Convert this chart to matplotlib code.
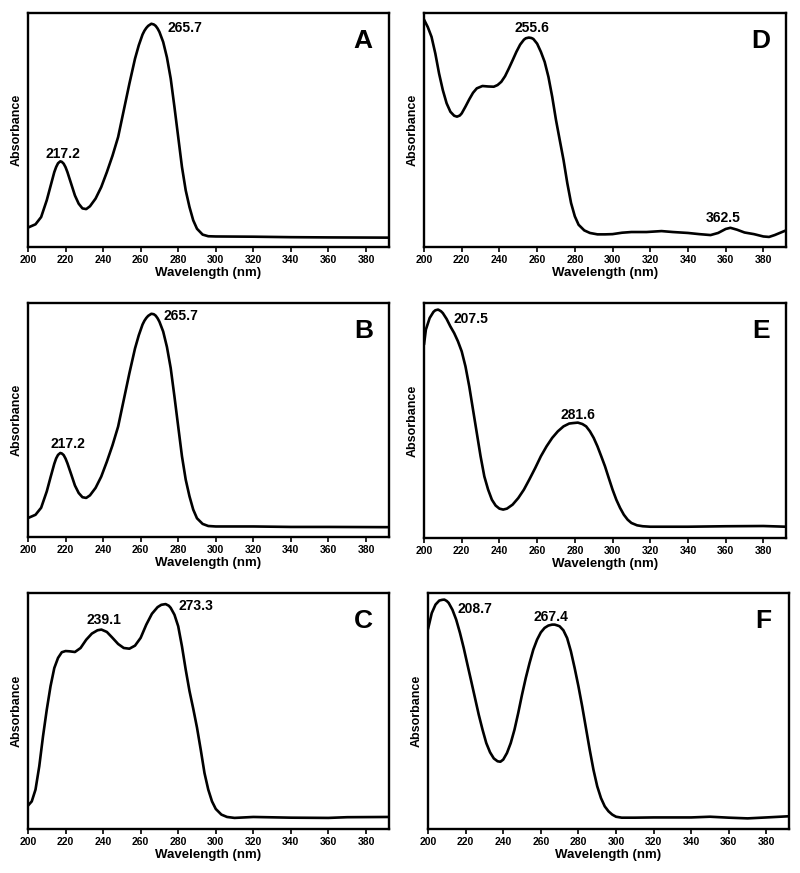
#!/usr/bin/env python3
"""
UV-Vis absorption spectra, six panels (A-F), normalised absorbance vs wavelength.
"""

import matplotlib
matplotlib.use("Agg")
import matplotlib.pyplot as plt

plt.rcParams['font.family'] = ['Liberation Sans', 'DejaVu Sans']
plt.rcParams['font.weight'] = 'bold'

# ---- spectra (absorbance in arbitrary units, 0-1 of the frame) ----
wl_a = [200, 204, 207, 210, 212, 214, 215, 216, 217.2, 218, 219, 220, 221, 223, 225, 227, 229,
        231, 233, 236, 239, 242, 245, 248, 251, 254, 257, 259, 261, 262, 263, 264, 265.7, 267,
        268, 269, 270, 272, 274, 276, 278, 280, 282, 284, 286, 288, 290, 293, 296, 300, 320,
        340, 360, 392]
abs_a = [0.083, 0.097, 0.128, 0.200, 0.260, 0.320, 0.342, 0.358, 0.366, 0.364, 0.356, 0.341,
         0.320, 0.270, 0.220, 0.185, 0.165, 0.162, 0.174, 0.207, 0.256, 0.320, 0.390, 0.470,
         0.584, 0.698, 0.805, 0.862, 0.908, 0.924, 0.936, 0.945, 0.954, 0.951, 0.945, 0.934,
         0.919, 0.876, 0.810, 0.720, 0.598, 0.470, 0.342, 0.242, 0.171, 0.114, 0.078, 0.053,
         0.046, 0.045, 0.044, 0.042, 0.041, 0.040]

wl_b = wl_a
abs_b = [0.081, 0.095, 0.125, 0.195, 0.255, 0.313, 0.336, 0.351, 0.359, 0.357, 0.350, 0.335,
         0.315, 0.268, 0.220, 0.188, 0.170, 0.167, 0.178, 0.210, 0.258, 0.322, 0.392, 0.472,
         0.586, 0.700, 0.806, 0.862, 0.908, 0.924, 0.936, 0.945, 0.954, 0.952, 0.946, 0.935,
         0.920, 0.878, 0.812, 0.722, 0.600, 0.472, 0.345, 0.245, 0.174, 0.117, 0.080, 0.056,
         0.047, 0.045, 0.045, 0.043, 0.043, 0.042]

wl_c = [200, 202, 204, 206, 208, 210, 212, 214, 216, 218, 220, 222, 225, 228, 231, 234, 237,
        239.1, 242, 245, 248, 251, 254, 257, 260, 263, 266, 269, 271, 273.3, 275, 276, 278, 280,
        282, 284, 286, 288, 290, 292, 294, 296, 298, 300, 303, 306, 310, 320, 340, 360, 370, 392]
abs_c = [0.099, 0.117, 0.167, 0.266, 0.393, 0.506, 0.605, 0.682, 0.725, 0.749, 0.754, 0.753,
         0.750, 0.767, 0.802, 0.828, 0.842, 0.845, 0.835, 0.810, 0.784, 0.767, 0.764, 0.777,
         0.810, 0.866, 0.912, 0.940, 0.950, 0.953, 0.946, 0.937, 0.908, 0.859, 0.774, 0.675,
         0.585, 0.510, 0.430, 0.336, 0.237, 0.167, 0.117, 0.085, 0.061, 0.051, 0.047, 0.051,
         0.048, 0.047, 0.050, 0.051]

wl_d = [200, 202, 204, 206, 208, 210, 212, 214, 216, 217.5, 219, 220, 222, 224, 226, 228, 231,
        234, 237, 239, 241, 243, 245, 247, 249, 251, 253, 254, 255.6, 257, 258, 260, 262, 264,
        266, 268, 270, 272, 274, 276, 278, 280, 282, 285, 288, 292, 296, 300, 305, 310, 318,
        326, 332, 340, 346, 352, 356, 360, 362.5, 366, 370, 375, 380, 383, 386, 392]
abs_d = [0.972, 0.940, 0.898, 0.827, 0.741, 0.670, 0.614, 0.578, 0.561, 0.557, 0.562, 0.571,
         0.600, 0.631, 0.659, 0.678, 0.688, 0.686, 0.685, 0.692, 0.706, 0.730, 0.763, 0.798,
         0.834, 0.865, 0.886, 0.892, 0.895, 0.893, 0.889, 0.869, 0.834, 0.791, 0.727, 0.642,
         0.543, 0.457, 0.372, 0.273, 0.188, 0.131, 0.095, 0.071, 0.060, 0.054, 0.054, 0.055,
         0.061, 0.064, 0.064, 0.068, 0.064, 0.060, 0.055, 0.051, 0.060, 0.077, 0.082, 0.074,
         0.062, 0.055, 0.045, 0.043, 0.051, 0.071]

wl_e = [200, 201, 203, 205, 206, 207.5, 209, 210, 212, 214, 216, 218, 220, 222, 224, 226, 228,
        230, 232, 234, 236, 238, 240, 242, 244, 247, 250, 253, 256, 259, 262, 265, 268, 271,
        274, 277, 279, 281.6, 284, 286, 288, 290, 292, 294, 296, 298, 300, 302, 304, 306, 308,
        310, 313, 316, 320, 340, 360, 380, 392]
abs_e = [0.823, 0.887, 0.936, 0.962, 0.969, 0.972, 0.965, 0.957, 0.932, 0.900, 0.872, 0.837,
         0.794, 0.730, 0.645, 0.546, 0.447, 0.348, 0.262, 0.206, 0.163, 0.138, 0.125, 0.121,
         0.125, 0.142, 0.170, 0.206, 0.251, 0.298, 0.348, 0.390, 0.426, 0.454, 0.475, 0.487,
         0.489, 0.491, 0.485, 0.475, 0.454, 0.426, 0.390, 0.348, 0.305, 0.255, 0.206, 0.163,
         0.128, 0.099, 0.078, 0.064, 0.054, 0.050, 0.048, 0.048, 0.050, 0.051, 0.048]

wl_f = [200, 202, 204, 206, 207.5, 208.7, 210, 211, 213, 215, 217, 219, 221, 223, 225, 227, 229,
        231, 233, 235, 237, 238.5, 240, 242, 244, 246, 248, 250, 252, 254, 256, 258, 260, 262,
        264, 266, 267.4, 269, 270, 272, 274, 276, 278, 280, 282, 284, 286, 288, 290, 292, 294,
        296, 298, 300, 303, 310, 320, 340, 350, 360, 370, 380, 392]
abs_f = [0.847, 0.915, 0.951, 0.968, 0.971, 0.972, 0.966, 0.958, 0.929, 0.887, 0.831, 0.767,
         0.696, 0.626, 0.555, 0.484, 0.421, 0.364, 0.325, 0.299, 0.287, 0.285, 0.294, 0.322,
         0.364, 0.421, 0.492, 0.569, 0.640, 0.703, 0.760, 0.802, 0.833, 0.852, 0.862, 0.866,
         0.866, 0.862, 0.859, 0.842, 0.809, 0.753, 0.682, 0.605, 0.520, 0.428, 0.336, 0.251,
         0.181, 0.131, 0.096, 0.075, 0.061, 0.052, 0.048, 0.048, 0.049, 0.049, 0.052, 0.048,
         0.045, 0.049, 0.054]

panel_letters = ['A', 'B', 'C', 'D', 'E', 'F']
spectra = [(wl_a, abs_a), (wl_b, abs_b), (wl_c, abs_c),
           (wl_d, abs_d), (wl_e, abs_e), (wl_f, abs_f)]

# peak labels: (text, x in nm, y in frame units)
peak_labels = [
    [('217.2', 218.8, 0.399), ('265.7', 283.4, 0.937)],
    [('217.2', 221.4, 0.399), ('265.7', 281.3, 0.943)],
    [('239.1', 240.5, 0.884), ('273.3', 289.6, 0.946)],
    [('255.6', 257.5, 0.937), ('362.5', 358.4, 0.124)],
    [('207.5', 225.1, 0.932), ('281.6', 281.8, 0.525)],
    [('208.7', 224.8, 0.932), ('267.4', 265.6, 0.898)],
]

xticks = list(range(200, 400, 20))

# axes rectangles in pixels (left, top, right, bottom)
W, H = 800, 873
boxes_px = [
    (28, 13, 388.5, 247),
    (28, 303, 388.5, 537),
    (28, 593, 388.5, 829),
    (424, 13, 786, 247),
    (424, 303, 786, 538),
    (428, 593, 789, 829),
]

fig = plt.figure(figsize=(W / 100, H / 100), dpi=100)

for i, (x0, y0, x1, y1) in enumerate(boxes_px):
    ax = fig.add_axes([x0 / W, 1 - y1 / H, (x1 - x0) / W, (y1 - y0) / H])
    wl, ab = spectra[i]
    ax.plot(wl, ab, color='black', lw=1.9, solid_joinstyle='round', solid_capstyle='round')
    ax.set_xlim(200, 392)
    ax.set_ylim(0, 1)
    ax.set_xticks(xticks)
    ax.set_yticks([])
    ax.tick_params(axis='x', direction='out', length=3.5, width=1.2, pad=2.5, labelsize=7.5)
    for lab in ax.get_xticklabels():
        lab.set_fontweight('bold')
    for sp in ax.spines.values():
        sp.set_linewidth(1.7)
    ax.set_xlabel('Wavelength (nm)', fontsize=9.5, fontweight='bold', labelpad=1.5)
    ax.set_ylabel('Absorbance', fontsize=9, fontweight='bold', labelpad=4)

    for txt, lx, ly in peak_labels[i]:
        ax.text(lx, ly, txt, fontsize=10, fontweight='bold', ha='center', va='center')
    ax.text(0.93, 0.88, panel_letters[i], transform=ax.transAxes, fontsize=19,
            fontweight='bold', ha='center', va='center')

fig.savefig('out.png', dpi=100)
